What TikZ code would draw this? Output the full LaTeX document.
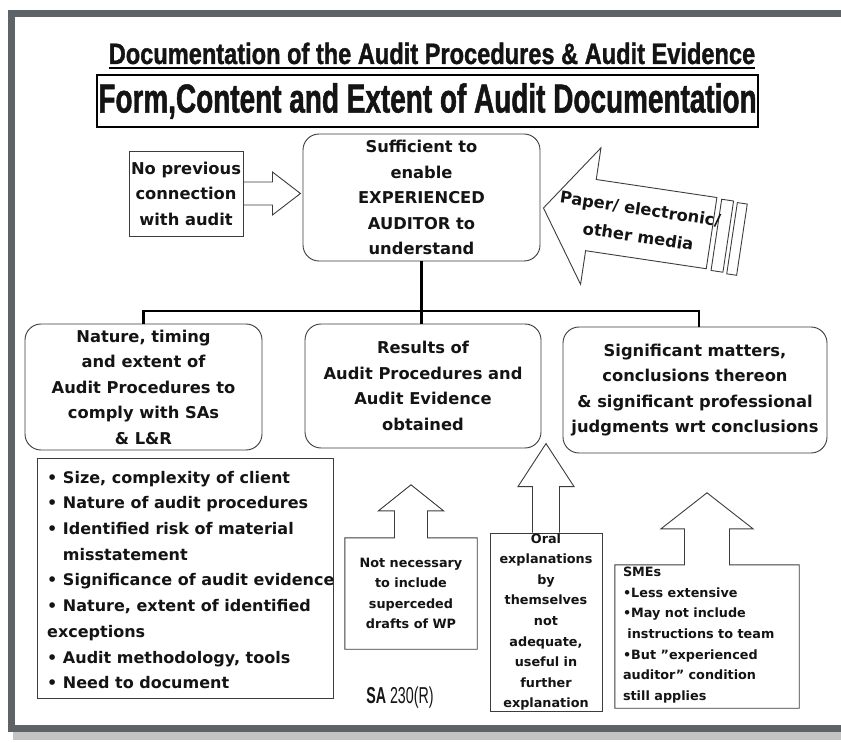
\documentclass[tikz,border=0pt]{standalone}
\usepackage{fontspec}
\setmainfont{DejaVu Sans}
\newfontfamily\headfont{Liberation Sans}[FakeStretch=0.8,FakeBold=1.2]
\newfontfamily\formfont{Liberation Sans}[FakeStretch=0.69,FakeBold=1.2]
\newfontfamily\safont{Liberation Sans}[FakeStretch=0.62]
\usetikzlibrary{positioning,calc}

\definecolor{framegray}{HTML}{5D6367}
\definecolor{shadegray}{HTML}{C4C4C4}
\definecolor{inkgray}{HTML}{141414}
\definecolor{edgegray}{HTML}{3C3C3C}

\tikzset{
  bigbox/.style={draw=edgegray, line width=0.9pt, rounded corners=16pt, align=center, inner sep=0pt,
    text=inkgray, font=\bfseries\fontsize{16.3}{25.5}\selectfont},
  notebox/.style={inner sep=0pt, text=inkgray, font=\bfseries\fontsize{12.8}{20.6}\selectfont},
  outline/.style={draw=edgegray, line width=0.9pt},
  tree/.style={line width=2.6pt, black},
}

\begin{document}
\begin{tikzpicture}[x=1pt,y=-1pt]
\useasboundingbox (0,0) rectangle (841,743);

% frame with its shadow
\fill[shadegray] (13,22) rectangle (880,740);
\draw[framegray, line width=7pt, fill=white] (11.5,13.5) rectangle (875,728.5);

% headings
\node[inner sep=0pt, anchor=base, text=inkgray, font=\headfont\bfseries\fontsize{29.5}{30}\selectfont] (doctitle) at (432,64)
  {Documentation of the Audit Procedures \& Audit Evidence};
\draw[line width=2.5pt] ([yshift=-4pt]doctitle.base west) -- ([yshift=-4pt]doctitle.base east);
\node[draw, line width=1.5pt, minimum width=661pt, minimum height=52pt, inner sep=0pt, text=inkgray,
  font=\formfont\bfseries\fontsize{40.5}{41}\selectfont] (formbox) at (427.5,101)
  {Form,Content and Extent of Audit Documentation};

% top row
\node[bigbox, minimum width=237pt, minimum height=127pt] (suff) at (421.5,197.5)
  {Sufficient to\\enable\\EXPERIENCED\\AUDITOR to\\understand};
\node[draw=edgegray, line width=0.9pt, minimum width=114pt, minimum height=85pt, inner sep=0pt, align=center,
  text=inkgray, font=\bfseries\fontsize{16.3}{25.5}\selectfont] (noprev) at (186,193.5)
  {No previous\\connection\\with audit};
\draw[outline] ($(noprev.east)+(0,-11.5)$) -- ++(29,0) -- ++(0,-10) -- ($(noprev.east)+(57,0)$)
  -- ($(noprev.east)+(29,21.5)$) -- ++(0,-10) -- ++(-29,0);

% media arrow
\begin{scope}[shift={($(suff.east)+(3,10.5)$)}, rotate=-8.5]
\draw[outline, fill=white] (0,0) -- (48,-68) -- (48,-36) -- (170,-36) -- (170,36) -- (48,36) -- (48,70) -- cycle;
\draw[outline] (175,-35) rectangle (187,37);
\draw[outline] (191,-34) rectangle (201,38);
\node[rotate=-8.5, inner sep=0pt, text=inkgray, font=\bfseries\fontsize{16.3}{26}\selectfont] (media1) at (96,-12)
  {Paper/ electronic/};
\node[rotate=-8.5, inner sep=0pt, text=inkgray, font=\bfseries\fontsize{16.3}{26}\selectfont] (media2) at (98,14)
  {other media};
\end{scope}

% second row
\node[bigbox, minimum width=237pt, minimum height=126pt] (nature) at (143.5,387)
  {Nature, timing\\and extent of\\Audit Procedures to\\comply with SAs\\\& L\&R};
\node[bigbox, minimum width=236pt, minimum height=124pt] (results) at (423,386)
  {Results of\\Audit Procedures and\\Audit Evidence\\obtained};
\node[bigbox, minimum width=264pt, minimum height=126pt] (sig) at (695,390)
  {Significant matters,\\conclusions thereon\\\& significant professional\\judgments wrt conclusions};

\coordinate (bus) at (423,311);
\draw[tree] (suff.south) -- (suff.south |- results.north);
\draw[tree] (nature.north) -- (nature.north |- bus) -- ([xshift=4pt]sig.north |- bus) -- ([xshift=4pt]sig.north);

% factors
\node[draw=edgegray, line width=0.9pt, minimum width=296pt, minimum height=240pt, anchor=north west] (factbox) at (37,458) {};
\node[anchor=west, align=left, inner sep=0pt, text=inkgray, font=\bfseries\fontsize{16}{25.7}\selectfont] (factors) at (47,580)
  {• Size, complexity of client\\
   • Nature of audit procedures\\
   • Identified risk of material\\
   \hphantom{•\ }misstatement\\
   • Significance of audit evidence\\
   • Nature, extent of identified\\
   exceptions\\
   • Audit methodology, tools\\
   • Need to document};

% notes with arrows
\node[notebox, align=center, minimum width=132pt, minimum height=111pt] (notnec) at (411,593.5)
  {Not necessary\\to include\\superceded\\drafts of WP};
\draw[outline] (notnec.north west) -- ($(notnec.north)+(-16.5,0)$) -- ++(0,-27) -- ++(-16,0) -- ($(notnec.north)+(0,-53)$)
  -- ++(32.5,26) -- ++(-16,0) -- ++(0,27) -- (notnec.north east) |- (notnec.south west) -- cycle;

\node[notebox, draw=edgegray, line width=0.9pt, align=center, minimum width=112pt, minimum height=178pt] (oral) at (546,622)
  {Oral\\explanations\\by\\themselves\\not\\adequate,\\useful in\\further\\explanation};
\draw[outline] ($(oral.north)+(-13.5,0)$) -- ++(0,-46) -- ++(-14.5,0) -- ($(oral.north)+(0,-89)$)
  -- ++(28,43) -- ++(-14.5,0) -- ++(0,46);

\node[minimum width=184pt, minimum height=143pt, inner sep=0pt] (smes) at (707,636.5) {};
\draw[outline] (smes.north west) -- ($(smes.north)+(-22.5,0)$) -- ++(0,-36) -- ++(-23.5,0) -- ($(smes.north)+(0,-72)$)
  -- ++(46,36) -- ++(-23.5,0) -- ++(0,36) -- (smes.north east) |- (smes.south west) -- cycle;
\node[notebox, anchor=west, align=left] (smestext) at ([xshift=8pt,yshift=1.5pt]smes.west)
  {SMEs\\
   •Less extensive\\
   •May not include\\
   \ instructions to team\\
   •But "experienced\\
   auditor" condition\\
   still applies};

\node[text=inkgray, font=\safont\fontsize{23}{24}\selectfont] (sa) at (400,698) {\textbf{SA}\,230(R)};

\end{tikzpicture}
\end{document}
